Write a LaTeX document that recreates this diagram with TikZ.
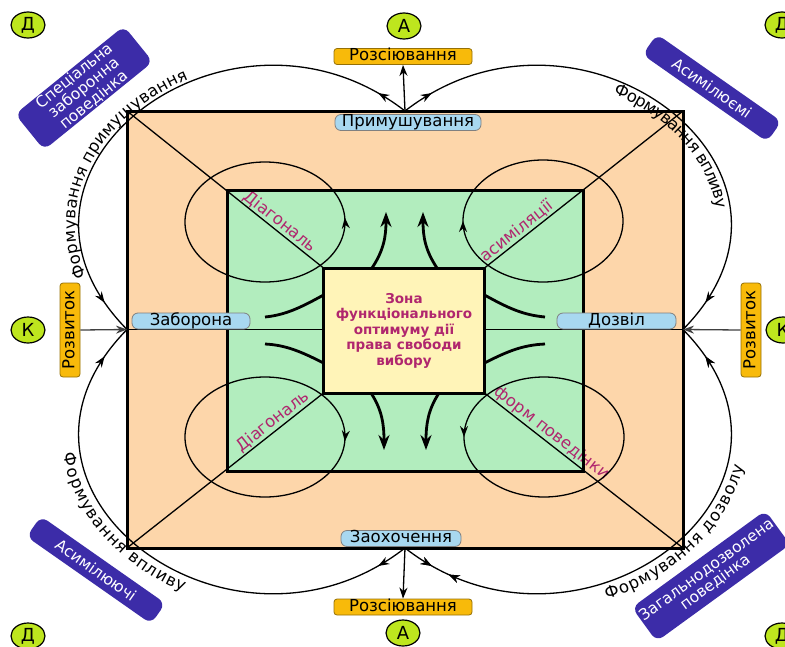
\documentclass[tikz,border=0pt]{standalone}
\usepackage{fontspec}
\setmainfont{DejaVu Sans}
\usetikzlibrary{shapes.geometric,arrows.meta,decorations.text,decorations.markings,calc}
\definecolor{peach}{RGB}{253,214,170}
\definecolor{mint}{RGB}{178,237,190}
\definecolor{cream}{RGB}{255,244,184}
\definecolor{magen}{RGB}{176,38,110}
\definecolor{indigo}{RGB}{60,44,168}
\definecolor{amber}{RGB}{248,186,10}
\definecolor{sky}{RGB}{168,216,240}
\definecolor{lime}{RGB}{190,230,30}
\newcommand\arcfnt{\fontsize{16.5}{18}\selectfont}
\begin{document}
\begin{tikzpicture}[x=1pt,y=-1pt,
  areabox/.style={rectangle, outer sep=0pt, inner sep=0pt},
  border/.style={line width=3pt},
  thinline/.style={line width=1.3pt},
  thinarrow/.style={line width=1.3pt, -{Stealth[length=11pt,width=8pt]}},
  flowarrow/.style={line width=2.8pt, -{Stealth[length=15pt,width=11pt]}},
  flowline/.style={line width=2.8pt},
  amberlbl/.style={rectangle, rounded corners=3pt, fill=amber, draw=amber!60!black, line width=0.8pt, inner sep=0pt, text height=11.5pt, text depth=3pt, font=\fontsize{16.5}{18}\selectfont},
  skylbl/.style={rectangle, rounded corners=6pt, fill=sky, draw=black!50, line width=0.8pt, inner sep=0pt, text height=11.5pt, text depth=3pt, font=\fontsize{16.5}{18}\selectfont},
  letter/.style={ellipse, fill=lime, draw=black, line width=1.2pt, minimum width=34pt, minimum height=26pt, inner sep=0pt, font=\fontsize{18}{18}\selectfont},
  purplebox/.style={rectangle, rounded corners=8pt, fill=indigo, text=white, inner sep=0pt, align=center, font=\fontsize{15.5}{13.5}\selectfont},
  diaglbl/.style={text=magen, font=\fontsize{16.5}{18}\selectfont, inner sep=1pt},
  arcarrow/.style={line width=1.3pt, postaction={decorate}, decoration={markings,
     mark=at position 0.06 with {\arrow{Stealth[length=11pt,width=8pt]}},
     mark=at position 0.935 with {\arrow{Stealth[length=11pt,width=8pt]}}}},
  arctext/.style={decorate, decoration={text along path, text={|\arcfnt|#1}}},
]
\useasboundingbox (0,0) rectangle (785,646);

% areas
\node[areabox, fill=peach, minimum width=556pt, minimum height=437pt] (outer) at (405,329.5) {};
\node[areabox, fill=mint, minimum width=356pt, minimum height=281pt] (inner) at (405,330.5) {};
\node[areabox, fill=cream, draw=black, line width=3pt, minimum width=161pt, minimum height=125pt] (zone) at (404,330.5) {};

% diagonals with labels
\draw[thinline] (outer.north west) -- node[diaglbl, pos=0.75, sloped, above] (dg1) {Діагональ} (zone.north west);
\draw[thinline] (zone.north east) -- node[diaglbl, pos=0.19, sloped, above] (dg2) {асиміляції} (outer.north east);
\draw[thinline] (outer.south west) -- node[diaglbl, pos=0.77, sloped, above] (dg3) {Діагональ} (zone.south west);
\draw[thinline] (zone.south east) -- node[diaglbl, pos=0.31, sloped, above] (dg4) {форм поведінки} (outer.south east);

% cross lines
\draw[thinline] (outer.north) -- (outer.north -| zone.north);
\draw[thinline] (outer.south) -- (outer.south -| zone.south);
\draw[thinline] (outer.west) -- (outer.west -| zone.west);
\draw[thinline] (outer.east) -- (outer.east -| zone.east);

% ellipses
\draw[thinline, postaction={decorate}, decoration={markings, mark=at position 0.01 with {\arrow{Stealth[length=11pt,width=8pt]}}}]
  (265,222) ellipse [x radius=80pt, y radius=60pt];
\draw[thinline, postaction={decorate}, decoration={markings, mark=at position 0.5 with {\arrowreversed{Stealth[length=11pt,width=8pt]}}}]
  (543,221) ellipse [x radius=80pt, y radius=61pt];
\draw[thinline, postaction={decorate}, decoration={markings, mark=at position 0.99 with {\arrowreversed{Stealth[length=11pt,width=8pt]}}}]
  (265,437) ellipse [x radius=80pt, y radius=60pt];
\draw[thinline, postaction={decorate}, decoration={markings, mark=at position 0.5 with {\arrow{Stealth[length=11pt,width=8pt]}}}]
  (544,437) ellipse [x radius=80pt, y radius=60pt];

% borders
\draw[border] (outer.north west) rectangle (outer.south east);
\draw[border] (inner.north west) rectangle (inner.south east);
\draw[border] (zone.north west) rectangle (zone.south east);

% flows out of the zone
\coordinate (f1) at ($(zone.north)+(-32,0)$);
\coordinate (f2) at ($(zone.north)+(33,0)$);
\coordinate (f3) at ($(zone.south)+(-33,0)$);
\coordinate (f4) at ($(zone.south)+(35,0)$);
\draw[flowarrow] (f1) .. controls (384,250) and (386,236) .. (386,212);
\draw[flowarrow] (f2) .. controls (425,250) and (423,236) .. (423,212);
\draw[flowarrow] (f3) .. controls (382,410) and (384,424) .. (384,450);
\draw[flowarrow] (f4) .. controls (428,410) and (426,424) .. (426,450);
\coordinate (s1) at (zone.west |- 0,295);
\coordinate (s2) at (zone.west |- 0,363);
\coordinate (s3) at (zone.east |- 0,295);
\coordinate (s4) at (zone.east |- 0,363);
\draw[flowline] (s1) .. controls (300,308) and (285,315) .. (265,317);
\draw[flowline] (s2) .. controls (300,351) and (285,345) .. (265,344);
\draw[flowline] (s3) .. controls (508,308) and (523,315) .. (545,317);
\draw[flowline] (s4) .. controls (508,351) and (523,345) .. (545,344);

% zone text
\node[text=magen, align=center, font=\bfseries\fontsize{13.5}{15.5}\selectfont] (zt) at (zone.center)
  {Зона\\функціонального\\оптимуму дії\\права свободи\\вибору};

% outer loops
\draw[arcarrow] (outer.north) .. controls (230,-25) and (-30,170) .. (outer.west);
\draw[arcarrow] (outer.north) .. controls (580,-25) and (840,170) .. (outer.east);
\draw[arcarrow] (outer.south) .. controls (230,684) and (-30,489) .. (outer.west);
\draw[arcarrow, postaction={decorate}, decoration={markings, mark=at position 0.095 with {\arrowreversed{Stealth[length=11pt,width=8pt]}}}]
  (outer.south) .. controls (580,684) and (840,489) .. (outer.east);

% texts along loops
\path[arctext={Формування примушування}, decoration={text align={left indent=66pt}, raise=3pt}]
  (outer.west) .. controls (-30,170) and (230,-25) .. (outer.north);
\path[arctext={Формування впливу}, decoration={text align={left indent=226pt}, raise=-14pt}]
  (outer.north) .. controls (580,-25) and (840,170) .. (outer.east);
\path[arctext={Формування впливу}, decoration={text align={left indent=135pt}, raise=-16pt}]
  (outer.west) .. controls (-30,489) and (230,684) .. (outer.south);
\path[arctext={Формування дозволу}, decoration={text align={left indent=208pt}, raise=-16pt}]
  (outer.south) .. controls (580,684) and (840,489) .. (outer.east);

% labels
\node[skylbl, minimum width=146pt, minimum height=16pt] (prym) at (408,122.5) {Примушування};
\node[skylbl, minimum width=120pt, minimum height=16pt] (zaoh) at (401,538.5) {Заохочення};
\node[skylbl, minimum width=118pt, minimum height=16pt] (zabo) at (191,321) {Заборона};
\node[skylbl, minimum width=119pt, minimum height=16pt] (dozv) at (616.5,321) {Дозвіл};
\node[amberlbl, minimum width=138pt, minimum height=16pt] (rozT) at (403,56.5) {Розсіювання};
\node[amberlbl, minimum width=138pt, minimum height=16pt] (rozB) at (403,607) {Розсіювання};
\node[amberlbl, rotate=90, minimum width=94pt, minimum height=20pt] (rozvL) at (70,330) {Розвиток};
\node[amberlbl, rotate=90, minimum width=94pt, minimum height=20pt] (rozvR) at (751,330) {Розвиток};

\draw[thinarrow] (outer.north) -- (rozT.south);
\draw[thinarrow] (outer.south) -- (rozB.north);
\draw[thinarrow, black!75] (rozvL.south) -- (outer.west);
\draw[thinarrow, black!75] (rozvR.north) -- (outer.east);

% letters
\node[letter] (dTL) at (28,25) {Д};
\node[letter] (aT) at (404,26) {А};
\node[letter] (dTR) at (782,25) {Д};
\node[letter] (kL) at (28,330) {К};
\node[letter] (kR) at (783,330) {К};
\node[letter] (dBL) at (28,636) {Д};
\node[letter] (aB) at (403,633) {А};
\node[letter] (dBR) at (782,636) {Д};

% purple boxes
\node[purplebox, rotate=39, minimum width=140pt, minimum height=46pt] (pTL) at (84,88) {Спеціальна\\заборонна\\поведінка};
\node[purplebox, rotate=-35, minimum width=152pt, minimum height=25pt] (pTR) at (712,88) {Асимілюємі};
\node[purplebox, rotate=-35, minimum width=152pt, minimum height=25pt] (pBL) at (96,570) {Асимілюючі};
\node[purplebox, rotate=36, minimum width=165pt, minimum height=42pt] (pBR) at (711,576) {Загальнодозволена\\поведінка};
\end{tikzpicture}
\end{document}
